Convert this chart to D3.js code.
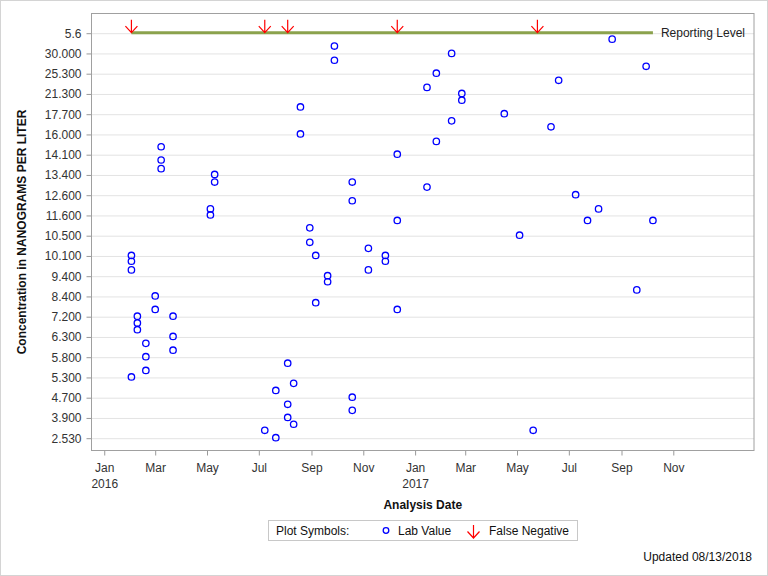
<!DOCTYPE html>
<html><head><meta charset="utf-8">
<script src="https://cdn.jsdelivr.net/npm/d3@7"></script>
<style>
html,body{margin:0;padding:0;background:#fff;}
svg{display:block;font-family:"Liberation Sans",Arial,sans-serif;}
</style></head>
<body>
<svg id="chart" width="768" height="576"></svg>
<script>
// ---- Data ----
const yTickLabels = ["2.530","3.900","4.700","5.300","5.800","6.300","7.200","8.400","9.400","10.100","10.500","11.600","12.600","13.400","14.100","16.000","17.700","21.300","25.300","30.000","5.6"];
const yTickValues = [2.53,3.9,4.7,5.3,5.8,6.3,7.2,8.4,9.4,10.1,10.5,11.6,12.6,13.4,14.1,16.0,17.7,21.3,25.3,30.0];
const reportingLabel = "5.6";
const labDates = ["2016-03-08","2016-03-08","2016-03-08","2016-05-10","2016-05-10","2016-05-05","2016-05-05","2016-02-02","2016-02-02","2016-02-02",
"2016-03-01","2016-03-01","2016-02-09","2016-02-09","2016-02-09","2016-03-22","2016-03-22","2016-03-22","2016-02-19","2016-02-19",
"2016-02-19","2016-02-02","2016-09-28","2016-09-28","2017-02-13","2017-01-26","2017-01-15","2017-02-25","2017-02-25","2016-08-19",
"2017-04-16","2017-02-13","2016-08-19","2017-01-26","2016-12-11","2016-10-19","2017-01-15","2016-10-19","2016-12-11","2016-08-30",
"2016-08-30","2016-09-06","2016-11-07","2016-11-27","2016-11-27","2016-11-07","2016-09-20","2016-09-20","2016-09-06","2016-12-11",
"2016-08-04","2016-08-11","2016-07-21","2016-08-04","2016-10-19","2016-10-19","2016-08-04","2016-08-11","2016-07-08","2016-07-21",
"2017-08-21","2017-09-30","2017-06-19","2017-06-10","2017-07-09","2017-08-05","2017-07-23","2017-10-08","2017-05-04","2017-09-19","2017-05-20"];
const labValues = [14.8,13.9,13.6,13.4,13.1,11.9,11.6,10.1,9.9,9.6,
8.4,7.6,7.2,6.9,6.6,7.2,6.3,5.96,6.13,5.8,
5.46,5.3,31.6,28.3,29.9,25.3,22.5,21.3,20.1,18.9,
17.7,17.1,16.0,15.3,14.1,13.1,12.9,12.3,11.3,10.9,
10.36,10.1,10.24,10.1,9.9,9.6,9.4,9.1,8.0,7.6,
5.64,5.11,4.9,4.42,4.7,4.18,3.9,3.44,3.03,2.53,
33.2,26.9,23.9,16.6,12.6,11.9,11.3,11.3,10.5,8.7,3.03];
const falseNegDates = ["2016-02-02","2016-07-08","2016-08-04","2016-12-11","2017-05-25"];
const reportingStart = "2016-02-02", reportingEnd = "2017-10-08";
const xDomain = ["2015-12-17","2018-02-04"];
const xTickDates = ["2016-01-01","2016-03-01","2016-05-01","2016-07-01","2016-09-01","2016-11-01",
                    "2017-01-01","2017-03-01","2017-05-01","2017-07-01","2017-09-01","2017-11-01"];

// ---- Layout ----
const svg = d3.select("#chart");
const L = 91.5, R = 754, T = 13.5, B = 450.5;
const parse = d3.utcParse("%Y-%m-%d");

svg.append("rect").attr("x",0.5).attr("y",0.5).attr("width",767).attr("height",575)
  .attr("fill","#fff").attr("stroke","#d4d4d4");

const x = d3.scaleUtc().domain(xDomain.map(parse)).range([L, R]);
const yPos = d3.scalePoint().domain(yTickLabels).range([437.7, 32.7]);
const y = d3.scaleLinear().domain(yTickValues).range(yTickValues.map((v,i)=>yPos(yTickLabels[i])));

// gridlines
svg.append("g").attr("transform",`translate(${L},0)`)
  .call(d3.axisLeft(yPos).tickSize(-(R-L)).tickFormat(""))
  .call(g=>g.select(".domain").remove())
  .call(g=>g.selectAll("line").attr("stroke","#e3e3e3").attr("stroke-width",1)
      .attr("transform","translate(0,0.5)"));

// y axis
const yAx = svg.append("g").attr("transform",`translate(${L},0)`)
  .call(d3.axisLeft(yPos).tickSize(5).tickPadding(5));
yAx.select(".domain").remove();
yAx.selectAll("line").attr("stroke","#999").attr("transform","translate(0,0.5)");
yAx.selectAll("text").attr("fill","#333").attr("font-size","12px")
  .attr("font-family","'Liberation Sans',Arial,sans-serif").attr("dy","0.36em");

// x axis
const xAx = svg.append("g").attr("transform",`translate(0,${B})`)
  .call(d3.axisBottom(x).tickValues(xTickDates.map(parse)).tickSize(5).tickPadding(6).tickFormat(""));
xAx.select(".domain").remove();
xAx.selectAll("line").attr("stroke","#999");
xAx.selectAll(".tick").each(function(d){
  const t = d3.select(this).append("text").attr("fill","#333").attr("font-size","12px")
    .attr("text-anchor","middle").attr("font-family","'Liberation Sans',Arial,sans-serif");
  t.append("tspan").attr("x",0).attr("y",21).text(d3.utcFormat("%b")(d));
  if (d.getUTCMonth()===0) t.append("tspan").attr("x",0).attr("y",37).text(d3.utcFormat("%Y")(d));
});

// frame
svg.append("rect").attr("x",L).attr("y",T).attr("width",R-L).attr("height",B-T)
  .attr("fill","none").attr("stroke","#a0a0a0");

// reporting level line
const yRep = yPos(reportingLabel);
svg.append("line").attr("x1",x(parse(reportingStart))).attr("x2",x(parse(reportingEnd)))
  .attr("y1",yRep).attr("y2",yRep).attr("stroke","#8ba24d").attr("stroke-width",3);
svg.append("text").attr("x",x(parse(reportingEnd))+8).attr("y",yRep+4.5)
  .attr("font-size","12px").attr("fill","#222").text("Reporting Level");

// lab values
const labData = labDates.map((d,i)=>({date:parse(d), value:labValues[i]}));
svg.append("g").selectAll("circle").data(labData).join("circle")
  .attr("cx",d=>x(d.date)).attr("cy",d=>y(d.value)).attr("r",3.2)
  .attr("fill","none").attr("stroke","#0000ff").attr("stroke-width",1.3);

// false negatives
function arrow(g, cx, tipY, len, w){
  g.append("path").attr("d",`M${cx},${tipY-len}V${tipY}M${cx-w},${tipY-w-0.5}L${cx},${tipY}L${cx+w},${tipY-w-0.5}`)
    .attr("fill","none").attr("stroke","#ff0000").attr("stroke-width",1.2);
}
const fnG = svg.append("g");
falseNegDates.forEach(d=>arrow(fnG, x(parse(d)), yRep, 13, 6));

// axis titles
svg.append("text").attr("transform",`translate(26,${(T+B)/2}) rotate(-90)`)
  .attr("text-anchor","middle").attr("font-size","12px").attr("font-weight","bold").attr("fill","#111")
  .text("Concentration in NANOGRAMS PER LITER");
svg.append("text").attr("x",(L+R)/2).attr("y",509).attr("text-anchor","middle")
  .attr("font-size","12px").attr("font-weight","bold").attr("fill","#111").text("Analysis Date");

// legend
const lg = svg.append("g");
lg.append("rect").attr("x",268.5).attr("y",520.5).attr("width",309).attr("height",20)
  .attr("fill","#fff").attr("stroke","#c8c8c8");
lg.append("text").attr("x",276).attr("y",535).attr("font-size","12px").attr("fill","#111").text("Plot Symbols:");
lg.append("circle").attr("cx",386).attr("cy",530.5).attr("r",2.8).attr("fill","none").attr("stroke","#0000ff").attr("stroke-width",1.3);
lg.append("text").attr("x",398).attr("y",535).attr("font-size","12px").attr("fill","#111").text("Lab Value");
arrow(lg, 473.5, 538, 13, 6);
lg.append("text").attr("x",489).attr("y",535).attr("font-size","12px").attr("fill","#111").text("False Negative");

// footnote
svg.append("text").attr("x",752).attr("y",561).attr("text-anchor","end")
  .attr("font-size","12px").attr("fill","#111").text("Updated 08/13/2018");
</script>
</body></html>
